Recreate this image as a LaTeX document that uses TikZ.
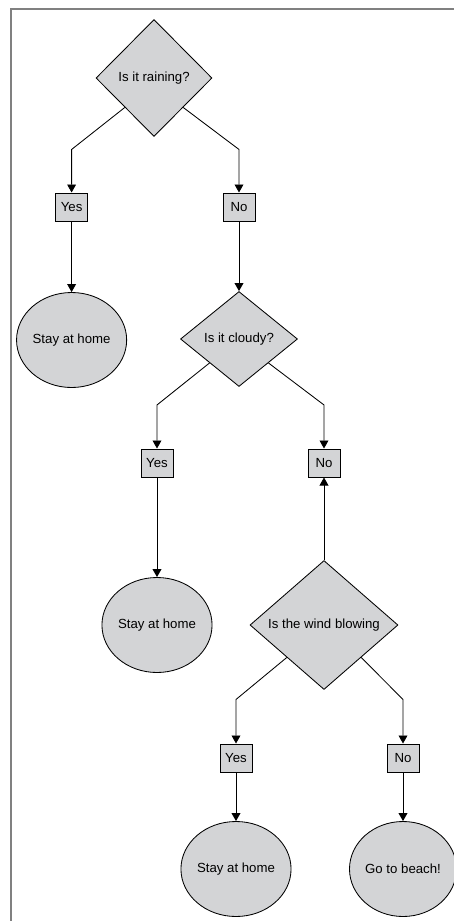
\documentclass[tikz,border=0pt]{standalone}
\usepackage{fontspec}
\setmainfont{Liberation Sans}
\usetikzlibrary{shapes.geometric, arrows.meta, positioning}
\definecolor{shapegray}{RGB}{211,212,214}

\begin{document}
\begin{tikzpicture}[on grid, font=\fontsize{9.4}{11}\selectfont,
    decision/.style={draw, diamond, fill=shapegray, inner sep=0pt, line width=0.6pt},
    answer/.style={draw, rectangle, fill=shapegray, minimum width=0.8cm, minimum height=0.7cm, inner sep=1pt, line width=0.7pt},
    outcome/.style={draw, ellipse, fill=shapegray, minimum width=2.5cm, minimum height=2.375cm, inner sep=0pt, line width=0.6pt},
    flow/.style={-{Triangle[length=2mm,width=2.2mm]}, line width=0.6pt}]
    \useasboundingbox (0,0) rectangle (11.35,-23.025);
    % Frame
    \draw [gray, line width=1.4pt] (0.275,-23.025) |- (11.35,-0.225);

    % Nodes
    \node (rain) [decision, minimum width=2.9cm, minimum height=2.925cm] at (3.85,-1.95) {Is it raining?};
    \node (yes1) [answer, below left=3.225cm and 2.06cm of rain] {Yes};
    \node (no1) [answer, below right=3.225cm and 2.125cm of rain] {No};
    \node (home1) [outcome, below=3.325cm of yes1] {Stay at home};
    \node (cloud) [decision, minimum width=2.925cm, minimum height=2.375cm, below=3.3cm of no1] {Is it cloudy?};
    \node (yes2) [answer, below left=3.1cm and 2.05cm of cloud] {Yes};
    \node (no2) [answer, below right=3.1cm and 2.125cm of cloud] {No};
    \node (home2) [outcome, below=4.05cm of yes2] {Stay at home};
    \node (wind) [decision, minimum width=3.7cm, minimum height=3.225cm, below=4.05cm of no2] {Is the wind blowing};
    \node (yes3) [answer, below left=3.325cm and 2.2cm of wind] {Yes};
    \node (no3) [answer, below right=3.325cm and 1.975cm of wind] {No};
    \node (home3) [outcome, below=2.775cm of yes3] {Stay at home};
    \node (beach) [outcome, below=2.775cm of no3] {Go to beach!};

    % Path
    \draw [flow] (rain.south west) -- ([yshift=-1.05cm]rain.south west -| yes1) -- (yes1);
    \draw [flow] (rain.south east) -- ([yshift=-1.05cm]rain.south east -| no1) -- (no1);
    \draw [flow] (yes1) -- (home1);
    \draw [flow] (no1) -- (cloud);
    \draw [flow] (cloud.south west) -- ([yshift=-1.05cm]cloud.south west -| yes2) -- (yes2);
    \draw [flow] (cloud.south east) -- ([yshift=-1.05cm]cloud.south east -| no2) -- (no2);
    \draw [flow] (yes2) -- (home2);
    \draw [flow] (wind) -- (no2);
    \draw [flow] (wind.south west) -- ([yshift=-1.05cm]wind.south west -| yes3) -- (yes3);
    \draw [flow] (wind.south east) -- ([yshift=-1.05cm]wind.south east -| no3) -- (no3);
    \draw [flow] (yes3) -- (home3);
    \draw [flow] (no3) -- (beach);
\end{tikzpicture}
\end{document}
